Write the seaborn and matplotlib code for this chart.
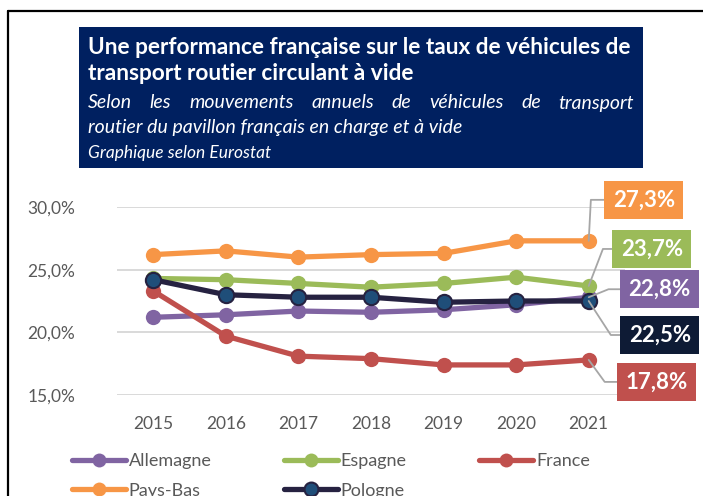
import numpy as np
import pandas as pd
import matplotlib
matplotlib.use('Agg')
import matplotlib.pyplot as plt
import seaborn as sns
from matplotlib.lines import Line2D
from matplotlib.patches import Rectangle

# data (taux de véhicules circulant à vide, %)
years = [2015, 2016, 2017, 2018, 2019, 2020, 2021]
countries = ['Allemagne', 'Espagne', 'France', 'Pays-Bas', 'Pologne']
allemagne = [21.2, 21.4, 21.7, 21.6, 21.8, 22.2, 22.8]
espagne = [24.3, 24.2, 23.9, 23.6, 23.9, 24.4, 23.7]
france = [23.3, 19.7, 18.1, 17.9, 17.4, 17.4, 17.8]
pays_bas = [26.2, 26.5, 26.0, 26.2, 26.3, 27.3, 27.3]
pologne = [24.2, 23.0, 22.8, 22.8, 22.4, 22.5, 22.5]
last_labels = ['22,8%', '23,7%', '17,8%', '27,3%', '22,5%']
y_ticks = [15, 20, 25, 30]

title_1 = "Une performance française sur le taux de véhicules de"
title_2 = "transport routier circulant à vide"
subtitle_1 = "Selon les mouvements annuels de véhicules de transport"
subtitle_2 = "routier du pavillon français en charge et à vide"
source = "Graphique selon Eurostat"

line_colors = {'Allemagne': '#8064A2', 'Espagne': '#9BBB59', 'France': '#C0504D',
               'Pays-Bas': '#F79646', 'Pologne': '#262241'}
face_colors = {'Allemagne': '#8064A2', 'Espagne': '#9BBB59', 'France': '#C0504D',
               'Pays-Bas': '#F79646', 'Pologne': '#1F4E79'}
box_colors = {'Allemagne': '#8064A2', 'Espagne': '#9BBB59', 'France': '#C0504D',
              'Pays-Bas': '#F79646', 'Pologne': '#0E1B35'}
# label box offsets (pixels from last point) and leader angle
label_offsets = {'Allemagne': (71, 8), 'Espagne': (63, 37), 'France': (68, -22),
                 'Pays-Bas': (55, 41), 'Pologne': (71, -34)}
leader_angles = {'Allemagne': 22, 'Espagne': 69, 'France': -54,
                 'Pays-Bas': 87, 'Pologne': -57}

df = pd.DataFrame({
    'annee': years * len(countries),
    'pays': np.repeat(countries, len(years)),
    'taux': allemagne + espagne + france + pays_bas + pologne,
})

sns.set_style('white')
plt.rcParams['font.family'] = ['Lato', 'DejaVu Sans']

W, H = 703, 496
fig = plt.figure(figsize=(W / 100, H / 100), dpi=100)


def fx(x):
    return x / W


def fy(y):
    return 1 - y / H


ax = fig.add_axes([fx(117), fy(395), fx(625) - fx(117), fy(207) - fy(395)])

handles = {}
for pays in countries:
    sub = df[df['pays'] == pays]
    sns.lineplot(data=sub, x='annee', y='taux', ax=ax, color=line_colors[pays],
                 lw=3.8, marker='o', ms=11, mfc=face_colors[pays],
                 mec=line_colors[pays], mew=1.5 if pays == 'Pologne' else 0,
                 clip_on=False, legend=False)
    handles[pays] = Line2D([], [], color=line_colors[pays], lw=3.8, marker='o', ms=10,
                           mfc=face_colors[pays], mec=line_colors[pays],
                           mew=1.5 if pays == 'Pologne' else 0)

for pays, lab in zip(countries, last_labels):
    val = df[(df['pays'] == pays) & (df['annee'] == years[-1])]['taux'].iloc[0]
    ax.annotate(lab, xy=(years[-1], val), xytext=label_offsets[pays],
                textcoords='offset pixels', ha='center', va='center',
                color='white', fontweight='bold', fontsize=16,
                bbox=dict(boxstyle='square,pad=0.38', fc=box_colors[pays], ec='none'),
                arrowprops=dict(arrowstyle='-', color='#A6A6A6', lw=1.3,
                                connectionstyle=f'angle,angleA=0,angleB={leader_angles[pays]},rad=0',
                                shrinkA=0, shrinkB=0),
                annotation_clip=False, zorder=5)

ax.set_xlim(years[0] - 0.5, years[-1] + 0.5)
ax.set_ylim(y_ticks[0], y_ticks[-1])
ax.set_xticks(years)
ax.set_xticklabels([str(y) for y in years])
ax.set_yticks(y_ticks)
ax.set_yticklabels([f'{v:.1f}%'.replace('.', ',') for v in y_ticks])
ax.tick_params(axis='both', length=0, labelsize=12.5, labelcolor='#595959')
ax.tick_params(axis='y', pad=30)
ax.tick_params(axis='x', pad=15)
ax.set_xlabel('')
ax.set_ylabel('')
ax.yaxis.grid(True, color='#D9D9D9', lw=1.4)
ax.set_axisbelow(True)
for s in ax.spines.values():
    s.set_visible(False)

order = ['Allemagne', 'Pays-Bas', 'Espagne', 'Pologne', 'France']
leg = fig.legend([handles[p] for p in order], order, ncol=3, loc='upper left',
                 bbox_to_anchor=(fx(72), fy(453)), frameon=False, fontsize=13,
                 handlelength=3.0, handletextpad=0.15, columnspacing=4.0,
                 labelspacing=0.75, borderaxespad=0, borderpad=0)
for t in leg.get_texts():
    t.set_color('#595959')

# frame lines (left + top)
fig.add_artist(Line2D([fx(8), fx(8)], [0, fy(11)], transform=fig.transFigure, color='black', lw=1.6))
fig.add_artist(Line2D([fx(8), 1], [fy(11), fy(11)], transform=fig.transFigure, color='black', lw=1.6))

# title box
fig.add_artist(Rectangle((fx(79), fy(168)), fx(643) - fx(79), fy(27) - fy(168),
                         transform=fig.transFigure, fc='#002060', ec='none'))
fig.text(fx(88), fy(48), title_1, color='white', fontsize=16.3, fontweight='bold', va='center')
fig.text(fx(88), fy(74), title_2, color='white', fontsize=16.3, fontweight='bold', va='center')

renderer = fig.canvas.get_renderer()
words = subtitle_1.split()
texts = [fig.text(0, fy(103), w, color='white', fontsize=14, style='italic', va='center')
         for w in words]
widths = [t.get_window_extent(renderer).width for t in texts]
gap = (634 - 88 - sum(widths)) / (len(words) - 1)
x = 88
for t, w in zip(texts, widths):
    t.set_x(fx(x))
    x += w + gap
fig.text(fx(88), fy(127), subtitle_2, color='white', fontsize=14, style='italic', va='center')
fig.text(fx(88), fy(153), source, color='white', fontsize=12.5, style='italic', va='center')

fig.savefig('out.png', dpi=100)
